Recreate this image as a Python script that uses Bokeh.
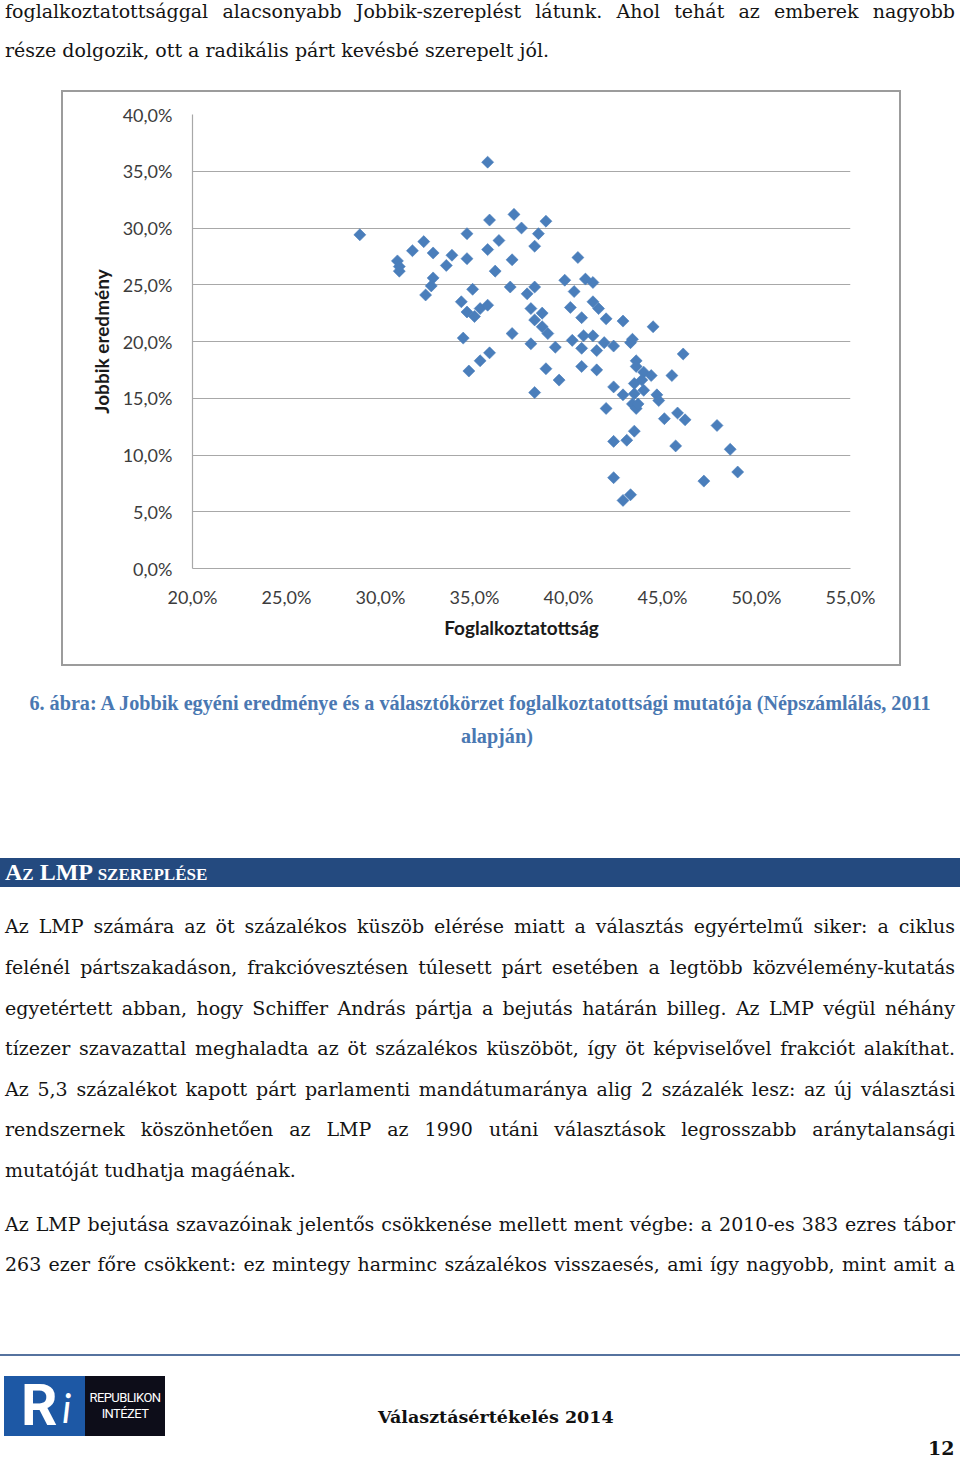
import numpy as np
from bokeh.plotting import figure
from bokeh.models import Div, Range1d, FixedTicker, Spacer, ColumnDataSource
from bokeh.layouts import column, row
from bokeh.embed import file_html
from bokeh.resources import INLINE

# ---------------- data ----------------
employment = [35.7, 28.9, 30.9, 31.0, 31.7, 32.3, 32.8, 32.8, 32.7, 32.4,
              33.5, 33.8, 34.6, 34.6, 34.9, 34.3, 34.6, 35.0, 35.3, 35.7,
              34.4, 34.7, 35.3, 35.8, 35.8, 35.7, 36.3, 36.1, 37.1, 37.5,
              37.0, 38.4, 38.8, 38.2, 36.9, 37.0, 38.2, 37.8, 38.0, 38.6,
              38.2, 38.6, 38.9, 38.0, 39.3, 38.8, 38.2, 39.5, 40.5, 39.8,
              40.9, 41.3, 40.3, 41.3, 41.6, 40.1, 40.7, 42.0, 42.9, 44.5,
              40.8, 41.3, 40.2, 40.7, 41.5, 41.9, 42.4, 43.3, 43.4, 46.1,
              43.6, 43.6, 40.7, 41.5, 44.0, 44.4, 43.9, 43.5, 45.5, 42.4,
              42.9, 43.5, 44.0, 44.7, 44.8, 43.4, 43.6, 42.0, 45.1, 45.8,
              46.2, 47.9, 42.4, 43.1, 43.5, 45.7, 42.4, 47.2, 43.3, 42.9,
              48.6, 49.0, 43.7, 31.0]
jobbik = [35.8, 29.4, 27.1, 26.2, 28.0, 28.8, 27.8, 25.6, 24.9, 24.1,
          26.7, 27.6, 29.5, 27.3, 24.6, 23.5, 22.6, 22.2, 22.9, 23.2,
          20.3, 17.4, 18.3, 19.0, 30.7, 28.1, 28.9, 26.2, 31.2, 30.0,
          27.2, 29.5, 30.6, 28.4, 24.8, 20.7, 24.8, 24.2, 22.9, 22.5,
          21.9, 21.3, 20.7, 19.8, 19.5, 17.6, 15.5, 16.6, 27.4, 25.4,
          25.5, 25.2, 24.4, 23.5, 22.9, 23.0, 22.1, 22.0, 21.8, 21.3,
          20.5, 20.5, 20.1, 19.4, 19.2, 19.9, 19.6, 19.9, 20.2, 18.9,
          18.3, 17.8, 17.8, 17.5, 17.3, 17.0, 16.6, 16.3, 17.0, 16.0,
          15.3, 15.4, 15.7, 15.3, 14.8, 14.5, 14.1, 14.1, 13.2, 13.7,
          13.1, 12.6, 11.2, 11.3, 12.1, 10.8, 8.0, 7.7, 6.5, 6.0,
          10.5, 8.5, 14.5, 26.6]

x_ticks = [20, 25, 30, 35, 40, 45, 50, 55]
x_tick_labels = ["20,0%", "25,0%", "30,0%", "35,0%", "40,0%", "45,0%", "50,0%", "55,0%"]
y_ticks = [0, 5, 10, 15, 20, 25, 30, 35, 40]
y_tick_labels = ["0,0%", "5,0%", "10,0%", "15,0%", "20,0%", "25,0%", "30,0%", "35,0%", "40,0%"]
x_title = "Foglalkoztatottság"
y_title = "Jobbik eredmény"

top_lines = [
    "foglalkoztatottsággal alacsonyabb Jobbik-szereplést látunk. Ahol tehát az emberek nagyobb",
    "része dolgozik, ott a radikális párt kevésbé szerepelt jól.",
]
caption_lines = [
    "6. ábra: A Jobbik egyéni eredménye és a választókörzet foglalkoztatottsági mutatója (Népszámlálás, 2011",
    "alapján)",
]
heading = "Az LMP szereplése"
para1 = [
    "Az LMP számára az öt százalékos küszöb elérése miatt a választás egyértelmű siker: a ciklus",
    "felénél pártszakadáson, frakcióvesztésen túlesett párt esetében a legtöbb közvélemény-kutatás",
    "egyetértett abban, hogy Schiffer András pártja a bejutás határán billeg. Az LMP végül néhány",
    "tízezer szavazattal meghaladta az öt százalékos küszöböt, így öt képviselővel frakciót alakíthat.",
    "Az 5,3 százalékot kapott párt parlamenti mandátumaránya alig 2 százalék lesz: az új választási",
    "rendszernek köszönhetően az LMP az 1990 utáni választások legrosszabb aránytalansági",
    "mutatóját tudhatja magáénak.",
]
para2 = [
    "Az LMP bejutása szavazóinak jelentős csökkenése mellett ment végbe: a 2010-es 383 ezres tábor",
    "263 ezer főre csökkent: ez mintegy harminc százalékos visszaesés, ami így nagyobb, mint amit a",
]
footer_title = "Választásértékelés 2014"
page_number = "12"
logo_lines = ["REPUBLIKON", "INTÉZET"]

# ---------------- helpers ----------------
BODY = "font-family:'DejaVu Serif',serif;font-size:19px;color:#141414;"


def line(text, cy, left=5, width=950, lh=22, justify=True, extra=BODY):
    al = "text-align:justify;text-align-last:justify;" if justify else "text-align:left;"
    return (f"<div style=\"position:absolute;left:{left}px;width:{width}px;top:{cy - lh / 2}px;"
            f"height:{lh}px;line-height:{lh}px;white-space:nowrap;{al}{extra}\">{text}</div>")


def centered(text, cx, cy, lh, extra):
    half = min(cx, 960 - cx)
    return (f"<div style=\"position:absolute;left:{cx - half}px;width:{2 * half}px;top:{cy - lh / 2}px;"
            f"height:{lh}px;line-height:{lh}px;white-space:nowrap;text-align:center;{extra}\">{text}</div>")


# ---------------- top text ----------------
topA = "".join([
    line(top_lines[0], 11, justify=True),
    line(top_lines[1], 50, justify=False),
])
divA = Div(text=f"<div style='position:relative;width:960px;height:90px;'>{topA}</div>",
           width=960, height=90, margin=0)

# ---------------- chart ----------------
src = ColumnDataSource(dict(x=employment, y=jobbik))
p = figure(width=840, height=576, x_range=Range1d(20, 55), y_range=Range1d(0, 40),
           output_backend="svg", toolbar_location=None,
           min_border_left=129, min_border_right=53, min_border_top=22, min_border_bottom=100,
           background_fill_color="white", border_fill_color="white",
           styles={"border": "2px solid #9c9c9c"})
p.outline_line_color = None
p.xgrid.visible = False
p.ygrid.ticker = FixedTicker(ticks=y_ticks)
p.ygrid.grid_line_color = "#a8a8a8"
p.ygrid.grid_line_width = 1.2

for ax, ticks, labels, title in ((p.xaxis[0], x_ticks, x_tick_labels, x_title),
                                 (p.yaxis[0], y_ticks, y_tick_labels, y_title)):
    ax.ticker = FixedTicker(ticks=ticks)
    ax.major_label_overrides = {t: l for t, l in zip(ticks, labels)}
    ax.major_tick_line_color = None
    ax.minor_tick_line_color = None
    ax.major_tick_out = 0
    ax.major_tick_in = 0
    ax.axis_line_color = "#a8a8a8"
    ax.axis_line_width = 1.2
    ax.major_label_text_font = "Lato"
    ax.major_label_text_font_size = "18px"
    ax.major_label_text_color = "#3c3c3c"
    ax.axis_label = title
    ax.axis_label_text_font = "Lato"
    ax.axis_label_text_font_size = "19px"
    ax.axis_label_text_font_style = "bold"
    ax.axis_label_text_color = "#1a1a1a"

p.xaxis.major_label_standoff = 17
p.xaxis.axis_label_standoff = 5
p.yaxis.major_label_standoff = 20
p.yaxis.axis_label_standoff = 7

p.scatter(x="x", y="y", source=src, marker="square", size=8.5, angle=np.pi / 4,
          fill_color="#4A7EBB", line_color="#4A7EBB", line_width=0.6)

chart_row = row(Spacer(width=61, height=576), p, margin=0)

# ---------------- lower text (ref y 666 = 0) ----------------
CAP = "font-family:'Liberation Serif',serif;font-weight:bold;font-size:20.2px;color:#4A78B2;"
parts = []
parts.append(centered(caption_lines[0], 480, 37, 24, CAP))
parts.append(centered(caption_lines[1], 497, 70, 24, CAP))
# heading bar
parts.append(
    "<div style=\"position:absolute;left:0px;width:960px;top:192px;height:29px;background:#244A7F;\"></div>")
parts.append(
    f"<div style=\"position:absolute;left:5px;top:192px;height:29px;line-height:29px;white-space:nowrap;"
    f"font-family:'Liberation Serif',serif;font-weight:bold;font-size:24px;font-variant:small-caps;"
    f"color:white;\">{heading}</div>")
p1_y = [260, 301, 342, 382, 423, 463, 504]
for i, (t, cy) in enumerate(zip(para1, p1_y)):
    parts.append(line(t, cy, justify=(i < len(para1) - 1)))
p2_y = [558, 598]
for t, cy in zip(para2, p2_y):
    parts.append(line(t, cy, justify=True))
# footer
parts.append("<div style=\"position:absolute;left:0px;width:960px;top:688px;height:2px;background:#56739F;\"></div>")
parts.append("<div style=\"position:absolute;left:4px;width:81px;top:710px;height:60px;background:#1D58A5;\"></div>")
parts.append("<div style=\"position:absolute;left:85px;width:80px;top:710px;height:60px;background:#0D0D19;\"></div>")
parts.append("<div style=\"position:absolute;left:21px;top:712px;height:56px;line-height:56px;"
             "font-family:Roboto,sans-serif;font-weight:bold;font-size:57px;color:white;\">R</div>")
parts.append("<div style=\"position:absolute;left:62px;top:720px;height:44px;line-height:44px;"
             "font-family:Lato,sans-serif;font-style:italic;font-size:40px;color:white;\">i</div>")
LOGO = "font-family:Roboto,sans-serif;font-size:13px;color:white;letter-spacing:-0.6px;"
parts.append(f"<div style=\"position:absolute;left:85px;width:80px;top:725px;height:14px;line-height:14px;"
             f"text-align:center;{LOGO}\">{logo_lines[0]}</div>")
parts.append(f"<div style=\"position:absolute;left:85px;width:80px;top:741px;height:14px;line-height:14px;"
             f"text-align:center;{LOGO}\">{logo_lines[1]}</div>")
FOOT = "font-family:'DejaVu Serif',serif;font-weight:bold;font-size:17.5px;color:#111;"
parts.append(f"<div style=\"position:absolute;left:378px;top:741px;height:20px;line-height:20px;"
             f"white-space:nowrap;{FOOT}\">{footer_title}</div>")
parts.append(f"<div style=\"position:absolute;left:928px;top:775px;height:14px;line-height:14px;"
             f"white-space:nowrap;{FOOT}font-size:19px;\">{page_number}</div>")

divB = Div(text=f"<div style='position:relative;width:960px;height:792px;'>{''.join(parts)}</div>",
           width=960, height=792, margin=0)

layout = column(divA, chart_row, divB, spacing=0, margin=0)
open("out.html", "w").write(file_html(layout, INLINE))
